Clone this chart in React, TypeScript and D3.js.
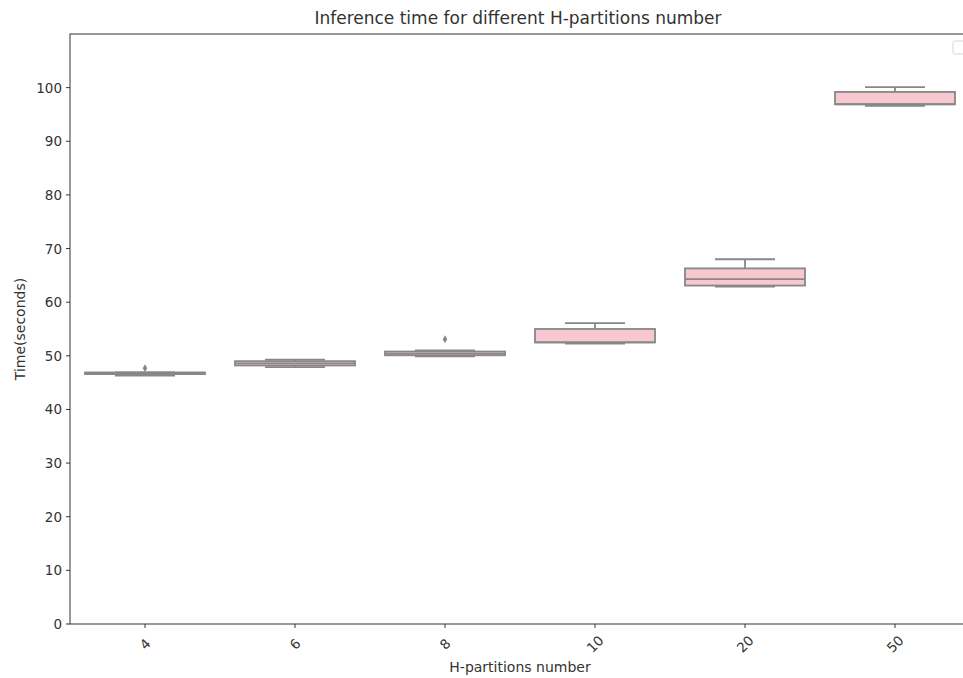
import React from "react";
import * as d3 from "d3";

// Inference time (seconds) per number of H-partitions, as box-plot summaries
const categories = ["4", "6", "8", "10", "20", "50"];
const whiskerLow = [46.3, 47.9, 49.9, 52.3, 62.9, 96.6];
const q1 = [46.6, 48.2, 50.1, 52.5, 63.1, 96.9];
const median = [46.7, 48.6, 50.4, 52.5, 64.3, 96.9];
const q3 = [46.9, 49.0, 50.8, 55.0, 66.3, 99.2];
const whiskerHigh = [46.9, 49.3, 51.0, 56.1, 68.0, 100.1];
const outliers: number[][] = [[47.7], [], [53.1], [], [], []];
const yTicks = [0, 10, 20, 30, 40, 50, 60, 70, 80, 90, 100];

const W = 963;
const H = 678;
const M = { left: 70, right: 970, top: 34, bottom: 624 };
const FONT = "DejaVu Sans, sans-serif";
const BOX_FILL = "#f7c8d0";
const LINE = "#878787";
const TEXT = "#333";

export default function App() {
  const x = d3
    .scaleBand<string>()
    .domain(categories)
    .range([M.left, M.right])
    .paddingInner(0)
    .paddingOuter(0);
  const y = d3.scaleLinear().domain([0, 110]).range([M.bottom, M.top]);
  const bw = x.bandwidth() * 0.8;
  const capW = bw / 2;
  const cx = (c: string) => (x(c) as number) + x.bandwidth() / 2;
  const diamond = d3.symbol().type(d3.symbolDiamond).size(18)();

  return (
    <svg
      width={W}
      height={H}
      style={{ position: "absolute", left: 0, top: 0, background: "#fff" }}
      fontFamily={FONT}
    >
      {/* boxes */}
      {categories.map((c, i) => {
        const xc = cx(c);
        return (
          <g key={c} stroke={LINE} strokeWidth={1.8} fill="none">
            <line x1={xc} x2={xc} y1={y(q3[i])} y2={y(whiskerHigh[i])} />
            <line x1={xc} x2={xc} y1={y(q1[i])} y2={y(whiskerLow[i])} />
            <line
              x1={xc - capW / 2}
              x2={xc + capW / 2}
              y1={y(whiskerHigh[i])}
              y2={y(whiskerHigh[i])}
            />
            <line
              x1={xc - capW / 2}
              x2={xc + capW / 2}
              y1={y(whiskerLow[i])}
              y2={y(whiskerLow[i])}
            />
            <rect
              x={xc - bw / 2}
              width={bw}
              y={y(q3[i])}
              height={Math.max(0, y(q1[i]) - y(q3[i]))}
              fill={BOX_FILL}
            />
            <line
              x1={xc - bw / 2}
              x2={xc + bw / 2}
              y1={y(median[i])}
              y2={y(median[i])}
            />
            {outliers[i].map((v, k) => (
              <path
                key={k}
                d={diamond as string}
                transform={`translate(${xc},${y(v)})`}
                fill={LINE}
                stroke="none"
              />
            ))}
          </g>
        );
      })}

      {/* frame */}
      <rect
        x={M.left}
        y={M.top}
        width={M.right - M.left}
        height={M.bottom - M.top}
        fill="none"
        stroke={TEXT}
        strokeWidth={1}
      />

      {/* empty legend frame */}
      <rect
        x={953}
        y={41}
        width={14}
        height={13}
        rx={2}
        fill="#fff"
        stroke="#d6d6d6"
        strokeWidth={1}
      />

      {/* y axis */}
      {yTicks.map((t) => (
        <g key={t}>
          <line
            x1={M.left - 4}
            x2={M.left}
            y1={y(t)}
            y2={y(t)}
            stroke={TEXT}
            strokeWidth={1}
          />
          <text
            x={M.left - 8}
            y={y(t)}
            textAnchor="end"
            dominantBaseline="central"
            fontSize={13.5}
            fill={TEXT}
          >
            {t}
          </text>
        </g>
      ))}

      {/* x axis */}
      {categories.map((c) => {
        const xc = cx(c);
        const ty = M.bottom + 20;
        return (
          <g key={c}>
            <line
              x1={xc}
              x2={xc}
              y1={M.bottom}
              y2={M.bottom + 4}
              stroke={TEXT}
              strokeWidth={1}
            />
            <text
              x={xc}
              y={ty}
              textAnchor="middle"
              dominantBaseline="central"
              fontSize={13.5}
              fill={TEXT}
              transform={`rotate(-45, ${xc}, ${ty})`}
            >
              {c}
            </text>
          </g>
        );
      })}

      {/* titles */}
      <text
        x={(M.left + M.right) / 2 - 2}
        y={18}
        textAnchor="middle"
        dominantBaseline="central"
        fontSize={17}
        fill={TEXT}
      >
        Inference time for different H-partitions number
      </text>
      <text
        x={(M.left + M.right) / 2}
        y={667}
        textAnchor="middle"
        dominantBaseline="central"
        fontSize={14}
        fill={TEXT}
      >
        H-partitions number
      </text>
      <text
        transform={`translate(20, ${(M.top + M.bottom) / 2}) rotate(-90)`}
        textAnchor="middle"
        dominantBaseline="central"
        fontSize={14}
        fill={TEXT}
      >
        Time(seconds)
      </text>
    </svg>
  );
}
